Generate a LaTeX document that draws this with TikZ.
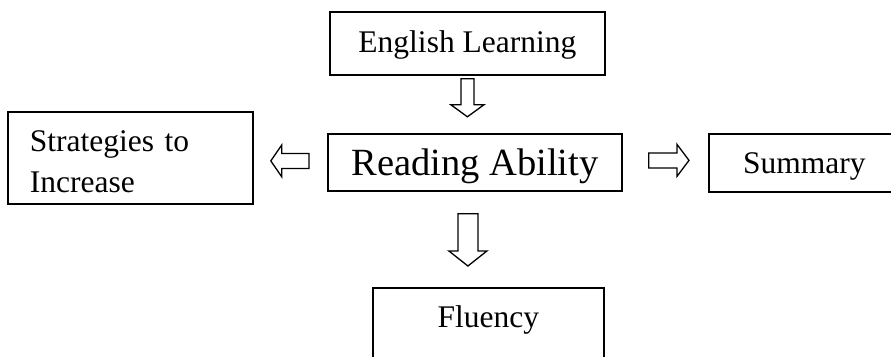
\documentclass[tikz,border=0pt]{standalone}
\usepackage{fontspec}
\setmainfont{Liberation Serif}
\usetikzlibrary{calc}
\newcommand{\txtnormal}{\fontsize{31.5}{41}\selectfont}
\newcommand{\txtbig}{\fontsize{38.5}{46}\selectfont}
\tikzset{
  box/.style={draw=black, line width=1.8pt, fill=white, inner ysep=0pt, inner xsep=0pt, anchor=north west, font=\txtnormal},
  blockarrow/.style={draw=black, line width=1.3pt, fill=white, line join=miter},
}
\begin{document}
\begin{tikzpicture}[x=1pt,y=-1pt]
\useasboundingbox (0,0) rectangle (891,356);
% boxes
\node[box, minimum width=275pt, text height=41pt, text depth=22pt] (eng) at (329,11) {English Learning};
\node[box, font=\txtbig, minimum width=294pt, text height=42pt, text depth=15pt] (read) at (327,133) {Reading Ability};
\node[box, text width=201pt, inner xsep=22pt, align=left, text height=40pt, text depth=52pt] (strat) at (7,111) {Strategies to\\Increase};
\node[box, minimum width=191pt, text height=40pt, text depth=18pt] (summ) at (708,133) {Summary};
\node[box, minimum width=231pt, text height=40pt, text depth=40pt] (flu) at (372,287) {Fluency};
% arrow coordinates
\coordinate (d1t) at ($(eng.south)+(0,3)$);
\coordinate (d1h) at ($(eng.south)+(0,41)$);
\coordinate (d2t) at ($(read.south)+(-7,22)$);
\coordinate (d2h) at ($(flu.north)+(-20.5,-21)$);
\coordinate (l1t) at ($(read.west)+(-18,-1.5)$);
\coordinate (l1h) at ($(strat.east)+(17,3)$);
\coordinate (r1t) at ($(read.east)+(26,-2)$);
\coordinate (r1h) at ($(summ.west)+(-19,-2.5)$);
% down arrow 1
\draw[blockarrow] ($(d1t)+(-6.5,0)$) -- ($(d1t)+(6.5,0)$) -- ($(d1h)+(6.5,-12)$) -- ($(d1h)+(16.5,-12)$) -- (d1h) -- ($(d1h)+(-16.5,-12)$) -- ($(d1h)+(-6.5,-12)$) -- cycle;
% down arrow 2
\draw[blockarrow] ($(d2t)+(-10,0)$) -- ($(d2t)+(10,0)$) -- ($(d2h)+(10,-15)$) -- ($(d2h)+(19,-15)$) -- (d2h) -- ($(d2h)+(-19,-15)$) -- ($(d2h)+(-10,-15)$) -- cycle;
% left arrow
\draw[blockarrow] ($(l1t)+(0,-7.5)$) -- ($(l1t)+(0,7.5)$) -- ($(l1h)+(11,7.5)$) -- ($(l1h)+(11,16)$) -- (l1h) -- ($(l1h)+(11,-16)$) -- ($(l1h)+(11,-7.5)$) -- cycle;
% right arrow
\draw[blockarrow] ($(r1t)+(0,-7.5)$) -- ($(r1t)+(0,7.5)$) -- ($(r1h)+(-12,7.5)$) -- ($(r1h)+(-12,16)$) -- (r1h) -- ($(r1h)+(-12,-16)$) -- ($(r1h)+(-12,-7.5)$) -- cycle;
\end{tikzpicture}
\end{document}
